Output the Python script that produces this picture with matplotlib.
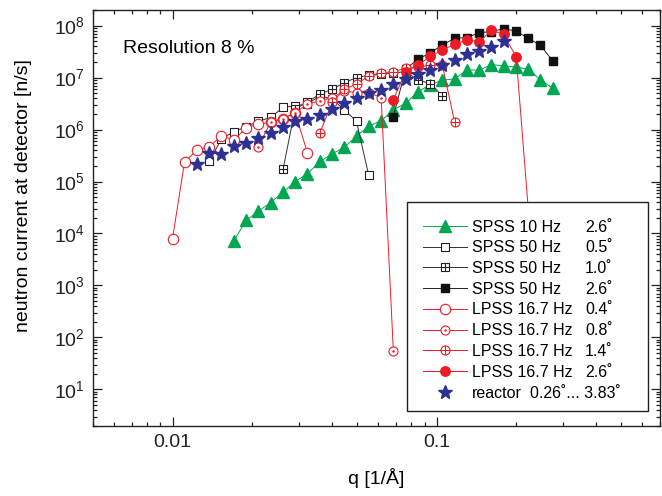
import numpy as np
import matplotlib
matplotlib.use("Agg")
import matplotlib.pyplot as plt
from matplotlib.path import Path
from matplotlib.patches import Rectangle
from matplotlib.ticker import FixedLocator, LogLocator, NullFormatter, FuncFormatter, LogFormatterMathtext

plt.rcParams['font.family'] = ['Liberation Sans', 'DejaVu Sans']
plt.rcParams['mathtext.fontset'] = 'custom'
plt.rcParams['mathtext.rm'] = 'Liberation Sans'
plt.rcParams['mathtext.it'] = 'Liberation Sans:italic'

# q grid shared by all measurements [1/A]
q_grid = [0.0100, 0.0111, 0.0124, 0.0138, 0.0153, 0.0171, 0.0190, 0.0211,
          0.0235, 0.0262, 0.0291, 0.0324, 0.0361, 0.0402, 0.0447, 0.0497,
          0.0553, 0.0616, 0.0685, 0.0763, 0.0849, 0.0945, 0.105, 0.117,
          0.130, 0.145, 0.161, 0.179, 0.200, 0.222, 0.247, 0.275]

# each series: first index in q_grid + neutron current values [n/s]
spss10_26_start = 5
spss10_26 = [7.3e3, 1.8e4, 2.67e4, 3.93e4, 6.2e4, 1.0e5, 1.41e5, 2.43e5, 3.41e5,
             4.56e5, 7.5e5, 1.16e6, 1.48e6, 2.4e6, 3.18e6, 5.39e6, 7.25e6, 9.0e6,
             9.4e6, 1.41e7, 1.39e7, 1.78e7, 1.68e7, 1.6e7, 1.45e7, 9.1e6, 6.2e6]

spss50_05_start = 3
spss50_05 = [2.46e5, 6.6e5, 9.1e5, 1.14e6, 1.44e6, 1.71e6, 2.66e6, 2.87e6, 3.09e6,
             4.46e6, 3.9e6, 2.4e6, 1.44e6, 1.31e5]

spss50_10_start = 9
spss50_10 = [1.71e5, 2.5e6, 3.4e6, 4.8e6, 6.0e6, 8.0e6, 1.0e7, 1.11e7, 1.16e7,
             1.23e7, 1.3e7, 9.0e6, 7.67e6, 4.46e6]

spss50_26_start = 18
spss50_26 = [1.78e6, 1.47e7, 2.25e7, 3.01e7, 4.23e7, 5.7e7, 5.9e7, 7.28e7, 7.7e7,
             8.7e7, 7.85e7, 5.69e7, 4.18e7, 2.09e7]

lpss_04_start = 0
lpss_04 = [8.0e3, 2.35e5, 4.1e5, 4.7e5, 7.6e5, 6.3e5, 1.09e6, 1.26e6, 1.39e6,
           1.63e6, 2.1e6, 3.6e5]

lpss_08_start = 7
lpss_08 = [4.6e5, 1.39e6, 1.63e6, 2.1e6, 3.1e6, 3.58e6, 4.14e6, 5.5e6, 5.16e6,
           5.16e6, 4.14e6, 56]

lpss_14_start = 12
lpss_14 = [8.6e5, 3.32e6, 6.0e6, 7.48e6, 1.08e7, 1.25e7, 1.29e7, 1.52e7, 1.6e7,
           1.73e7, 1.73e7, 1.37e6]

lpss_26_start = 18
lpss_26 = [3.74e6, 1.30e7, 1.75e7, 2.55e7, 3.4e7, 4.37e7, 5.35e7, 4.9e7, 8.1e7,
           6.85e7, 2.49e7, 3.0e4]

reactor_start = 2
reactor = [2.13e5, 3.5e5, 3.41e5, 4.9e5, 5.5e5, 6.8e5, 8.7e5, 1.10e6, 1.44e6,
           1.60e6, 1.93e6, 2.48e6, 3.24e6, 4.0e6, 5.0e6, 5.9e6, 7.48e6, 9.3e6,
           1.18e7, 1.43e7, 1.78e7, 2.2e7, 2.81e7, 3.25e7, 3.87e7, 5.0e7]

labels = ["SPSS 10 Hz", "SPSS 50 Hz", "SPSS 50 Hz", "SPSS 50 Hz",
          "LPSS 16.7 Hz", "LPSS 16.7 Hz", "LPSS 16.7 Hz", "LPSS 16.7 Hz", "reactor"]
angles = ["2.6˚", "0.5˚", "1.0˚", "2.6˚", "0.4˚", "0.8˚", "1.4˚", "2.6˚", "0.26˚... 3.83˚"]

x_ticks = [0.01, 0.1]
y_ticks = [1e1, 1e2, 1e3, 1e4, 1e5, 1e6, 1e7, 1e8]

GREEN = "#00a651"
RED = "#ed1c24"
BLUE = "#2e3192"

# marker shapes
SQ = Path([(-1, -1), (1, -1), (1, 1), (-1, 1), (-1, -1)],
          [Path.MOVETO, Path.LINETO, Path.LINETO, Path.LINETO, Path.CLOSEPOLY])
CROSS = Path([(-1, 0), (1, 0), (0, -1), (0, 1)],
             [Path.MOVETO, Path.LINETO, Path.MOVETO, Path.LINETO])
CIRC = Path.unit_circle()
DOT = Path(CIRC.vertices * 0.15, CIRC.codes)
SQ_CROSS = Path.make_compound_path(SQ, CROSS)
CIRC_CROSS = Path.make_compound_path(CIRC, CROSS)
CIRC_DOT = Path.make_compound_path(CIRC, DOT)


def qs(start, vals):
    return q_grid[start:start + len(vals)]


fig = plt.figure(figsize=(6.62, 4.96), dpi=100)
ax = fig.add_axes([93 / 662, 1 - 425.7 / 496, (660 - 93) / 662, (425.7 - 10) / 496])

lw = 0.7
styles = [
    (spss10_26_start, spss10_26, dict(color=GREEN, marker='^', ms=8, mfc=GREEN, mec=GREEN)),
    (spss50_05_start, spss50_05, dict(color='#333333', marker=SQ, ms=6.3, mfc='white', mec='#222222', mew=0.8)),
    (spss50_10_start, spss50_10, dict(color='#333333', marker=SQ_CROSS, ms=6.3, mfc='white', mec='#222222', mew=0.8)),
    (spss50_26_start, spss50_26, dict(color='#222222', marker='s', ms=6.3, mfc='#111111', mec='#111111')),
    (lpss_04_start, lpss_04, dict(color=RED, marker='o', ms=7.5, mfc='white', mec=RED, mew=0.8)),
    (lpss_08_start, lpss_08, dict(color=RED, marker=CIRC_DOT, ms=6.5, mfc='white', mec=RED, mew=0.8)),
    (lpss_14_start, lpss_14, dict(color=RED, marker=CIRC_CROSS, ms=6.5, mfc='white', mec=RED, mew=0.8)),
    (lpss_26_start, lpss_26, dict(color=RED, marker='o', ms=6.8, mfc=RED, mec=RED)),
]

handles = []
for start, vals, kw in styles:
    h, = ax.plot(qs(start, vals), vals, lw=lw, **kw)
    handles.append(h)

h, = ax.plot(qs(reactor_start, reactor), reactor, ls='none', marker='*', ms=10,
             color=BLUE, mec=BLUE)
handles.append(h)

ax.set_xscale('log')
ax.set_yscale('log')
ax.set_xlim(0.005, 0.7)
ax.set_ylim(2, 2e8)

ax.xaxis.set_major_locator(FixedLocator(x_ticks))
ax.xaxis.set_minor_locator(LogLocator(base=10, subs=np.arange(2, 10), numticks=100))
ax.xaxis.set_major_formatter(FuncFormatter(lambda v, p: f"{v:g}"))
ax.xaxis.set_minor_formatter(NullFormatter())
ax.yaxis.set_major_locator(FixedLocator(y_ticks))
ax.yaxis.set_minor_locator(LogLocator(base=10, subs=np.arange(2, 10), numticks=100))
ax.yaxis.set_major_formatter(LogFormatterMathtext())
ax.yaxis.set_minor_formatter(NullFormatter())

ax.tick_params(which='both', direction='in', top=True, right=True, width=0.9, colors='#222222')
ax.tick_params(which='major', length=6.5, pad=6, labelsize=14)
ax.tick_params(which='minor', length=3)
for s in ax.spines.values():
    s.set_linewidth(1.0)
    s.set_color('#222222')

ax.set_xlabel("q [1/Å]", fontsize=14, labelpad=12)
ax.set_ylabel("neutron current at detector [n/s]", fontsize=14)
ax.yaxis.set_label_coords(-0.108, 0.553)

ax.text(0.0535, 0.897, "Resolution 8 %", transform=ax.transAxes, fontsize=14, va='baseline')

# legend box
x0 = (406.7 - 93) / 567
x1 = (648 - 93) / 567
y0 = (425.7 - 411) / 415.7
y1 = (425.7 - 202) / 415.7
ax.add_patch(Rectangle((x0, y0), x1 - x0, y1 - y0, transform=ax.transAxes,
                       facecolor='white', edgecolor='#222222', lw=1.0, zorder=5))

leg = ax.legend(handles, labels, loc='upper left',
                bbox_to_anchor=((423 - 93) / 567, (425.7 - 219.5) / 415.7),
                frameon=False, fontsize=11.5, borderpad=0, borderaxespad=0,
                labelspacing=0.36, handlelength=2.75, handletextpad=0.3)
leg.set_zorder(6)

fig.canvas.draw()
H = fig.bbox.height
for t, ang in zip(leg.get_texts(), angles):
    bb = t.get_window_extent()
    if ang.startswith("0.26"):
        x = 530 / 662
    else:
        x = 585 / 662
    fig.text(x, bb.y0 / H, ang, fontsize=11.5, va='bottom', zorder=7)

fig.savefig("out.png", dpi=100)
